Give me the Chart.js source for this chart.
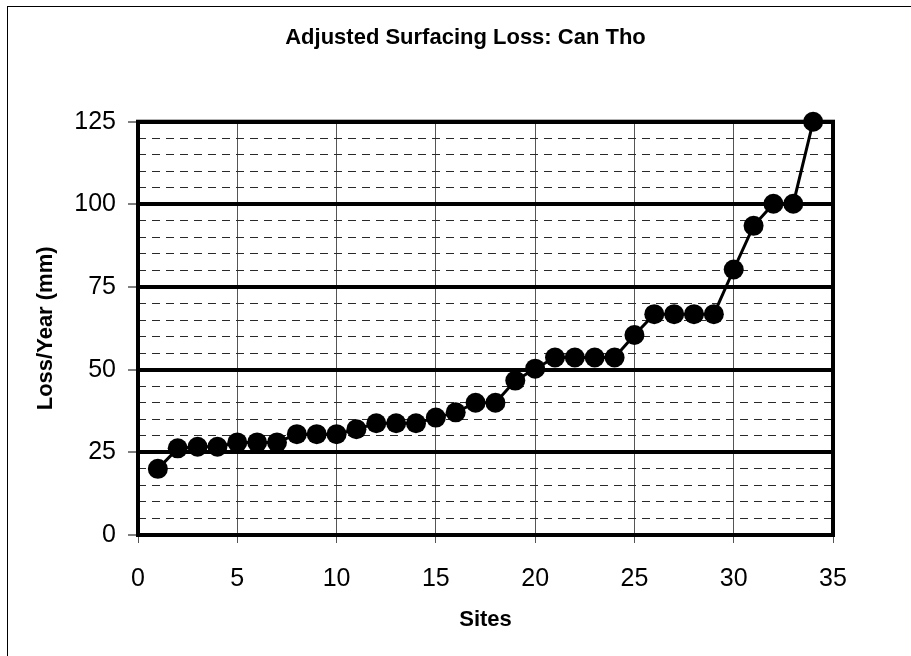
<!DOCTYPE html>
<html>
<head>
<meta charset="utf-8">
<title>Adjusted Surfacing Loss: Can Tho</title>
<script src="https://cdn.jsdelivr.net/npm/chart.js@4.4.1/dist/chart.umd.min.js"></script>
<style>
    body { margin: 0; background: #ffffff; }
    #wrap { width: 911px; height: 656px; }
</style>
</head>
<body>
<div id="wrap"><canvas id="loss-chart" width="911" height="656"></canvas></div>
<script>
// Site numbers and loss per year (mm), sorted ascending
const sites = [1, 2, 3, 4, 5, 6, 7, 8, 9, 10, 11, 12, 13, 14, 15, 16, 17,
               18, 19, 20, 21, 22, 23, 24, 25, 26, 27, 28, 29, 30, 31, 32, 33, 34];
const loss = [20, 26.2, 26.7, 26.7, 28, 28, 28, 30.5, 30.5, 30.5, 32, 33.8, 33.8, 33.8, 35.5, 37.1, 40,
              40, 46.7, 50.3, 53.7, 53.7, 53.7, 53.7, 60.5, 66.8, 66.8, 66.8, 66.8, 80.3, 93.5, 100.2, 100.2, 125];

const xMin = 0, xMax = 35, xStep = 5;
const yMin = 0, yMax = 125, yMajorStep = 25, yMinorStep = 5;

const FONT = '"Liberation Sans", Arial, Helvetica, sans-serif';

// Outer frame of the whole chart plus thick box round the plot area
const framePlugin = {
    id: 'frame',
    beforeDraw(chart) {
        const ctx = chart.ctx;
        ctx.save();
        ctx.fillStyle = '#ffffff';
        ctx.fillRect(0, 0, chart.width, chart.height);
        ctx.strokeStyle = '#000000';
        ctx.lineWidth = 1;
        ctx.strokeRect(7.5, 6.5, chart.width + 20, chart.height + 20);
        ctx.restore();
    },
    beforeDatasetsDraw(chart) {
        const a = chart.chartArea;
        const ctx = chart.ctx;
        ctx.save();
        ctx.strokeStyle = '#000000';
        ctx.lineWidth = 4;
        ctx.strokeRect(a.left, a.top, a.right - a.left, a.bottom - a.top);
        ctx.restore();
    }
};

const points = sites.map((s, i) => ({ x: s, y: loss[i] }));

new Chart(document.getElementById('loss-chart'), {
    type: 'line',
    data: {
        datasets: [{
            label: 'Loss/Year',
            data: points,
            borderColor: '#000000',
            borderWidth: 3,
            backgroundColor: '#000000',
            pointBackgroundColor: '#000000',
            pointBorderColor: '#000000',
            pointBorderWidth: 0,
            pointRadius: 10,
            tension: 0,
            clip: false
        }]
    },
    options: {
        responsive: false,
        animation: false,
        events: [],
        layout: { padding: { left: 20, right: 0, top: 0, bottom: 0 } },
        plugins: {
            legend: { display: false },
            tooltip: { enabled: false },
            title: {
                display: true,
                text: 'Adjusted Surfacing Loss: Can Tho',
                color: '#000000',
                font: { family: FONT, size: 22, weight: 'bold' },
                padding: { top: 25, bottom: 70.3 }
            }
        },
        scales: {
            x: {
                type: 'linear',
                min: xMin,
                max: xMax,
                ticks: { stepSize: xStep, color: '#000000', font: { family: FONT, size: 25 }, padding: 21 },
                grid: { color: '#555555', lineWidth: 1, tickLength: 8, tickColor: '#555555', tickWidth: 1 },
                border: { display: false },
                title: {
                    display: true,
                    text: 'Sites',
                    color: '#000000',
                    font: { family: FONT, size: 22, weight: 'bold' },
                    padding: { top: 0, bottom: 23 }
                },
                afterFit: (scale) => { scale.height = 121; }
            },
            // dashed minor lines every 5 mm; placed on the right to hold the right margin
            yMinor: {
                type: 'linear',
                position: 'right',
                min: yMin,
                max: yMax,
                ticks: { display: false, stepSize: yMinorStep },
                grid: { color: '#2a2a2a', lineWidth: 1, drawTicks: false },
                border: { display: false, dash: [8, 6] },
                afterFit: (scale) => { scale.width = 78; }
            },
            y: {
                type: 'linear',
                position: 'left',
                min: yMin,
                max: yMax,
                ticks: { stepSize: yMajorStep, color: '#000000', font: { family: FONT, size: 25 }, padding: 12 },
                grid: { color: '#000000', lineWidth: 4, tickLength: 10, tickColor: '#000000', tickWidth: 1 },
                border: { display: false },
                title: {
                    display: true,
                    text: 'Loss/Year (mm)',
                    color: '#000000',
                    font: { family: FONT, size: 22, weight: 'bold' },
                    padding: { top: 13, bottom: 0 }
                },
                afterFit: (scale) => { scale.width = 118; }
            }
        }
    },
    plugins: [framePlugin]
});
</script>
</body>
</html>
